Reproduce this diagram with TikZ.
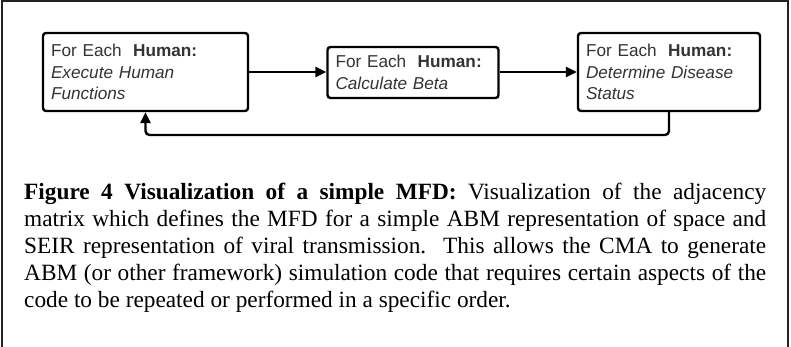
\documentclass[tikz,border=0pt]{standalone}
\usepackage{fontspec}
\setmainfont{Liberation Serif}
\newfontfamily\boxfont{Liberation Sans}
\usetikzlibrary{arrows.meta}
\definecolor{boxtext}{HTML}{333333}
\definecolor{framegray}{HTML}{222222}
\tikzset{
  stepbox/.style={draw=black, line width=2.4pt, rounded corners=3pt,
    inner xsep=8pt, inner ysep=0pt, align=left, text=boxtext,
    font=\boxfont\fontsize{17.2}{21.3}\selectfont},
  flow/.style={draw=black, line width=2.4pt,
    -{Triangle[length=11pt,width=10pt]}}
}
% one justified caption line, spread to the full caption width
% (the font's own stretchable interword glue is restored)
\newcommand{\capl}[1]{\leavevmode\hbox to 742pt{\spaceskip=0pt\xspaceskip=0pt #1}}
\begin{document}
\begin{tikzpicture}[x=1pt,y=-1pt]
  \useasboundingbox (0,0) rectangle (791,347);
  % outer frame, open at the bottom
  \draw[framegray, line width=1.6pt] (2,347) -- (2,1) -- (788,1) -- (788,347);

  % process steps
  \node[stepbox, text width=189pt, minimum width=205pt, minimum height=78pt] (exec) at (145.5,72)
    {For Each\ \ \textbf{Human:}\\\textit{Execute Human}\\\textit{Functions}};
  \node[stepbox, text width=155pt, minimum width=170pt, minimum height=51pt] (beta) at (413,72.5)
    {For Each\ \ \textbf{Human:}\\\textit{Calculate Beta}};
  \node[stepbox, text width=166pt, minimum width=182pt, minimum height=78pt] (status) at (669,72)
    {For Each\ \ \textbf{Human:}\\\textit{Determine Disease}\\\textit{Status}};

  % forward connectors
  \draw[flow] (exec.east |- 0,72) -- (beta.west |- 0,72);
  \draw[flow] (beta.east |- 0,72) -- (status.west |- 0,72);

  % loop back to the first step
  \coordinate (loopR) at (669,135);
  \coordinate (loopL) at (145.5,135);
  \draw[flow, rounded corners=4pt] (status.south) -- (loopR) -- (loopL) -- (exec.south);

  % caption
  \node[anchor=base west, inner sep=0pt, text width=742pt, align=left,
        font=\fontsize{23.3}{27}\selectfont] (caption) at (24,200)
    {\capl{\textbf{Figure 4 Visualization of a simple MFD:} Visualization of the adjacency}\\
     \capl{matrix which defines the MFD for a simple ABM representation of space and}\\
     \capl{SEIR representation of viral transmission.\ \ This allows the CMA to generate}\\
     \capl{ABM (or other framework) simulation code that requires certain aspects of the}\\
     {\spaceskip=0pt\xspaceskip=0pt code to be repeated or performed in a specific order.}};
\end{tikzpicture}
\end{document}
